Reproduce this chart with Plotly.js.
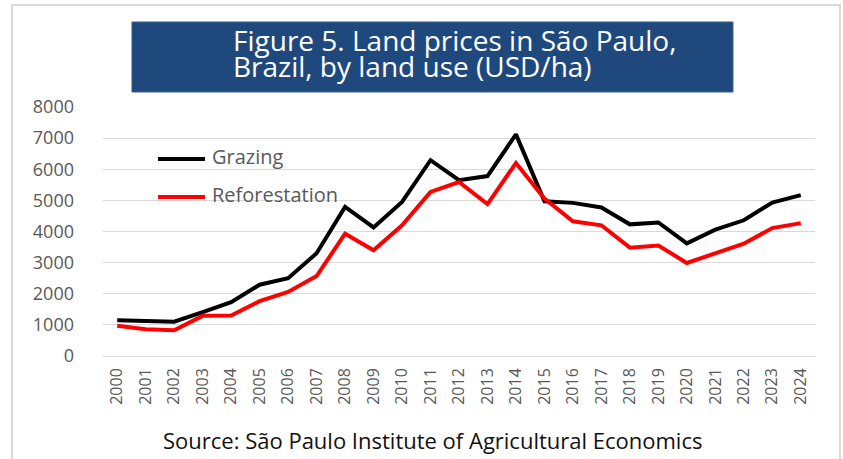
<!DOCTYPE html>
<html>
<head>
<meta charset="utf-8">
<script src="https://cdn.plot.ly/plotly-3.0.1.min.js"></script>
<style>html,body{margin:0;padding:0;background:#fff;}#chart{width:843px;height:459px;}</style>
</head>
<body>
<div id="chart"></div>
<script>
var years = ["2000","2001","2002","2003","2004","2005","2006","2007","2008","2009","2010","2011","2012","2013","2014","2015","2016","2017","2018","2019","2020","2021","2022","2023","2024"];
var grazing = [1150,1110,1100,1410,1730,2290,2500,3300,4790,4130,4950,6290,5650,5780,7120,4970,4920,4770,4230,4290,3620,4060,4360,4930,5170];
var reforestation = [970,860,830,1290,1300,1760,2060,2570,3930,3400,4200,5270,5590,4880,6200,5060,4330,4200,3480,3550,2990,3310,3610,4110,4270];
var seriesNames = ["Grazing","Reforestation"];
var seriesColors = ["#000000","#ff0000"];
var yTicks = [0,1000,2000,3000,4000,5000,6000,7000,8000];
var titleLines = ["Figure 5. Land prices in São Paulo,","Brazil, by land use (USD/ha)"];
var sourceText = "Source: São Paulo Institute of Agricultural Economics";

var FONT = "Open Sans, Lato, sans-serif";
var traces = [grazing, reforestation].map(function(vals, i){
  return {x: years, y: vals, type: "scatter", mode: "lines", name: seriesNames[i],
          line: {color: seriesColors[i], width: 4}, showlegend: false, hoverinfo: "x+y"};
});

var legendY = [0.7912, 0.6386];
var shapes = [
  {type:"rect", xref:"paper", yref:"paper", x0:-0.1278, x1:1.0351, y0:-0.46, y1:1.4096,
   line:{color:"#d9d9d9", width:2}, fillcolor:"rgba(0,0,0,0)", layer:"below"},
  {type:"rect", xref:"paper", yref:"paper", x0:0.0407, x1:0.8848, y0:1.0602, y1:1.3414,
   line:{color:"#3a5f8f", width:1}, fillcolor:"#1f497d", layer:"above"}
];
var annotations = [];
seriesNames.forEach(function(n, i){
  shapes.push({type:"line", xref:"paper", yref:"paper", x0:0.0772, x1:0.1433, y0:legendY[i], y1:legendY[i],
               line:{color:seriesColors[i], width:4}});
  annotations.push({xref:"paper", yref:"paper", x:0.1505, y:legendY[i]+0.008, xanchor:"left", yanchor:"middle",
                    showarrow:false, text:n, font:{family:FONT, size:20, color:"#595959"}});
});
annotations.push({xref:"paper", yref:"paper", x:0.1798, y:1.270, xanchor:"left", yanchor:"middle",
                  showarrow:false, text:titleLines[0], font:{family:FONT, size:28, color:"#ffffff"}});
annotations.push({xref:"paper", yref:"paper", x:0.1798, y:1.166, xanchor:"left", yanchor:"middle",
                  showarrow:false, text:titleLines[1], font:{family:FONT, size:28, color:"#ffffff"}});
annotations.push({xref:"paper", yref:"paper", x:0.4621, y:-0.3373, xanchor:"center", yanchor:"middle",
                  showarrow:false, text:sourceText, font:{family:FONT, size:22, color:"#111111"}});

var layout = {
  width: 843, height: 459,
  margin: {l:103, r:28, t:107, b:103, pad:0},
  paper_bgcolor: "#ffffff", plot_bgcolor: "#ffffff",
  font: {family: FONT},
  xaxis: {type:"category", range:[-0.5, years.length - 0.5], tickangle:-90, showgrid:false, zeroline:false, showline:false,
          ticks:"", ticklabelstandoff:8, tickfont:{family:FONT, size:16, color:"#595959"}, fixedrange:true},
  yaxis: {range:[0,8000], tickvals:yTicks, ticktext:yTicks.map(String), showgrid:true, gridcolor:"#d9d9d9", gridwidth:1,
          zeroline:true, zerolinecolor:"#d9d9d9", zerolinewidth:1, showline:false, ticks:"",
          ticklabelstandoff:28, tickfont:{family:FONT, size:18, color:"#595959"}, fixedrange:true},
  shapes: shapes,
  annotations: annotations,
  showlegend: false
};
Plotly.newPlot("chart", traces, layout, {displayModeBar:false, staticPlot:true});
</script>
</body>
</html>
